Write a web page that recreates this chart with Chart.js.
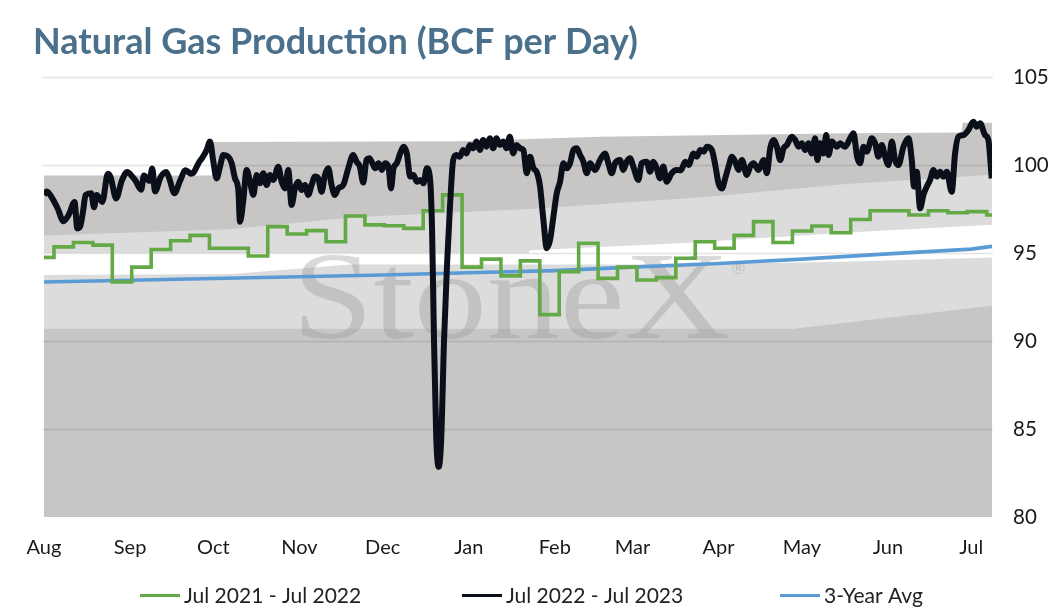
<!DOCTYPE html>
<html>
<head>
<meta charset="utf-8">
<script src="https://cdn.jsdelivr.net/npm/chart.js@4.4.1/dist/chart.umd.min.js"></script>
<style>
    html, body { margin: 0; padding: 0; background: #fff; }
    #caixa { width: 1058px; height: 614px; position: relative; }
</style>
</head>
<body>
<div id="caixa"><canvas id="grafico"></canvas></div>
<script>

    //entrada

const titulo = 'Natural Gas Production (BCF per Day)'
const meses = ['Aug','Sep','Oct','Nov','Dec','Jan','Feb','Mar','Apr','May','Jun','Jul']
const diasMes = [0,31,61,92,122,153,184,212,243,273,304,334]
const fimDias = 341.5
const ticksY = [80,85,90,95,100,105]

// Jul 2021 - Jul 2022 (semanal)
const semana2122 = [94.75,95.35,95.6,95.45,93.35,94.2,95.2,95.7,96.0,95.27,95.27,94.83,96.5,96.08,96.27,95.64,
    97.1,96.6,96.55,96.4,97.4,98.3,94.2,94.65,93.7,94.55,91.5,93.94,95.55,93.56,94.2,93.47,93.6,94.7,
    95.64,95.27,96.0,96.78,95.6,96.25,96.53,96.15,96.9,97.4,97.4,97.16,97.4,97.29,97.35,97.16]

// Jul 2022 - Jul 2023 (dia, valor)
const diario2223 = [[0,98.3],[1,98.5],[3,98.1],[5,97.5],[7,96.8],[9,97.2],[11,97.9],[12,96.4],[13,96.5],[14,97.3],
    [15,98.3],[17,98.4],[18,97.6],[19,98.3],[21,97.9],[23,99.5],[24,99.3],[26,98.1],[28,99.1],[30,99.6],[32,99.3],
    [33,99.1],[35,98.6],[36,99.4],[38,99.1],[39,99.8],[40,98.5],[42,99.3],[44,99.6],[45,99.3],[47,98.4],[49,99.1],
    [51,99.7],[53,99.5],[54,99.6],[56,100.2],[57,100.4],[58.6,100.85],[59.8,101.33],[61,100.19],[62.2,99.24],
    [63.4,99.9],[64.6,100.57],[66.4,100.47],[67.6,100.1],[68.8,99.24],[70,98.58],[70.6,96.78],[71.8,98.01],
    [73,99.72],[74.2,99.05],[75.4,98.3],[76.6,99.43],[77.8,98.96],[79,99.53],[80.2,98.86],[81.4,99.43],[82.6,99.15],
    [84.4,99.9],[85.6,99.05],[86.8,98.67],[88,99.72],[89.2,97.73],[90.4,98.67],[91.6,99.05],[92.8,98.58],[94,98.86],
    [95.2,98.3],[96.4,98.86],[97.6,99.34],[98.8,99.24],[100,98.48],[101.2,99.43],[102.4,99.81],[103.6,98.86],
    [104.8,98.3],[106,98.67],[107.8,98.86],[109.6,99.81],[111.4,100.57],[112.6,100.19],[113.8,99.9],[115,99.0],
    [116.2,100.3],[117.2,100.38],[118.3,100.1],[119.3,99.81],[120.5,100.1],[121.7,99.72],[122.9,100.1],[124.1,99.9],
    [125,98.67],[125.9,99.81],[127.1,100.1],[128.3,100.66],[129.5,101.04],[130.7,100.66],[131.9,99.34],[133.1,99.43],
    [134.3,99.05],[135.5,99.15],[136.7,98.96],[137.9,99.81],[139.1,99.15],[139.8,96.3],[140.5,90.0],[141.3,84.5],
    [142.2,82.85],[143.1,84.5],[144.1,90.0],[145.2,94.4],[146.3,97.8],[147.4,100.28],[148.6,100.57],[149.8,100.47],
    [151,100.85],[152.2,100.66],[153.4,101.14],[154.6,100.95],[155.8,101.33],[157,100.85],[158.2,101.42],
    [159.4,101.04],[160.6,101.52],[161.8,100.95],[163,101.52],[164.2,101.14],[165.4,101.33],[166.6,100.95],
    [167.8,101.61],[169,100.66],[170.2,101.14],[171.5,100.95],[172.7,100.85],[173.9,99.53],[175.1,100.47],
    [176.3,99.81],[177.5,99.6],[178.7,98.77],[179.9,96.88],[181.1,95.27],[182.3,95.74],[183.5,97.06],[184.7,98.39],
    [185.9,99.05],[187.1,100.1],[188.3,99.81],[189.5,100.1],[190.7,100.85],[191.9,100.95],[193.1,100.57],
    [194.3,100.19],[195.5,99.53],[196.7,100.1],[198.5,99.72],[200.3,100.28],[202.1,100.66],[203.3,100.1],
    [204.5,99.53],[205.7,100.1],[207.5,100.28],[208.7,99.72],[209.9,100.19],[211.1,100.38],[212.3,99.91],
    [214.1,99.15],[215.3,100.1],[217.1,100.19],[218.3,99.62],[219.5,100.19],[220.7,99.81],[221.9,99.24],
    [223.1,99.91],[224.3,99.05],[226.1,99.53],[227.9,99.72],[229.4,99.7],[231,100.19],[232.2,100.0],[234,100.66],
    [235.2,100.47],[236.4,100.85],[237.6,100.76],[238.8,101.04],[240.6,100.85],[241.8,100.0],[243,98.96],
    [244.2,98.67],[245.4,99.24],[246.6,99.91],[247.8,100.47],[249,100.19],[250.2,99.72],[251.4,100.28],
    [253.2,99.43],[254.4,99.91],[255.6,100.1],[257.4,99.72],[259.2,100.28],[260.4,99.53],[261.6,100.95],
    [262.8,101.42],[264,101.04],[265.2,100.28],[266.4,100.95],[267.6,101.14],[269.4,101.61],[270.6,101.42],
    [271.8,101.04],[273,101.23],[274.2,100.85],[275.4,101.23],[276.6,100.66],[277.8,101.52],[278.6,100.28],
    [279.6,101.23],[280.8,100.66],[281.8,101.7],[282.6,100.57],[283.8,101.33],[285.6,101.04],[286.8,101.23],
    [288.6,101.04],[290.4,101.52],[291.6,101.8],[292.9,100.47],[294,100.1],[295.2,101.04],[296.4,100.76],
    [298.2,101.52],[299.4,101.23],[300.6,100.47],[301.8,101.14],[303,100.47],[304.2,100.0],[305.4,101.33],
    [306.6,100.28],[307.8,100.0],[309.6,101.04],[311.4,101.52],[312.6,100.28],[313.4,98.77],[314.4,99.62],
    [315.6,97.54],[316.8,98.3],[318,98.77],[319.2,99.15],[320.4,99.72],[321.6,99.34],[322.8,99.62],[324,99.34],
    [325.2,99.62],[327,98.48],[328.2,100.66],[329.4,101.61],[331.2,101.7],[333,101.99],[334.8,102.46],
    [336,102.18],[337.2,102.37],[339,101.7],[340.2,101.42],[341.4,99.24]]

// 3-Year Avg (dia, valor)
const media3anos = [[0,93.35],[31,93.45],[61,93.55],[92,93.65],[122,93.75],[153,93.88],[184,94.0],
    [212,94.2],[243,94.4],[273,94.65],[304,94.95],[334,95.22],[341.5,95.38]]

// faixas de fundo (limites superiores)
const faixa1 = [[0,90.7],[270,90.7],[341.5,92.0]]
const faixa2 = [[0,93.75],[68,93.8],[110,94.35],[230,94.35],[288,94.5],[341.5,94.75]]
const faixa3 = [[0,95.0],[174.5,95.0],[175,95.15],[229,95.55],[288,96.15],[341.5,96.6]]
const faixa4 = [[0,96.0],[67,96.35],[113,97.05],[175,97.5],[236,98.15],[288,98.9],[341.5,99.45]]
const faixa5 = [[0,99.4],[60.5,99.4],[61,101.3],[150,101.35],[200,101.6],[290,101.8],[330.5,101.85],[331,102.4],[341.5,102.4]]

const cinzaEscuro = '#c8c6c5'
const cinzaClaro = '#dcdcdc'
const fonte = 'Lato'

/*========================================================*/

//operações

function pontos(lista){
    return lista.map(p => ({x: p[0], y: p[1]}))
}

function pontos_semana(valores){
    let saida = []
    for(let i = 0; i < valores.length; i++){
        let dia = i == 0 ? 0 : 3.6 + 7 * (i - 1)
        saida.push({x: dia, y: valores[i]})
    }
    saida.push({x: fimDias, y: valores[valores.length - 1]})
    return saida
}

function faixa(lista, cor, ordem){
    return {
        label: '',
        data: pontos(lista),
        borderWidth: 0,
        borderColor: cor,
        backgroundColor: cor,
        pointRadius: 0,
        fill: 'start',
        tension: 0,
        order: ordem
    }
}

// grade + marca d'agua, desenhadas depois das faixas e antes das linhas
const fundo = {
    id: 'fundo',
    beforeDatasetDraw(chart, args){
        if(args.index != 2) return
        const ctx = chart.ctx
        const a = chart.chartArea
        const y = chart.scales.y
        ctx.save()

        ctx.globalCompositeOperation = 'multiply'
        ctx.strokeStyle = 'rgb(228,228,228)'
        ctx.lineWidth = 1.5
        ticksY.slice(1).forEach(v => {
            let py = Math.round(y.getPixelForValue(v)) + 0.5
            ctx.beginPath()
            ctx.moveTo(a.left - 2, py)
            ctx.lineTo(a.right + 1, py)
            ctx.stroke()
        })
        ctx.globalCompositeOperation = 'source-over'

        ctx.fillStyle = 'rgba(150,150,150,0.36)'
        ctx.font = '124px "Liberation Serif"'
        ctx.textBaseline = 'alphabetic'
        let w = ctx.measureText('StoneX').width
        ctx.save()
        ctx.translate(a.left + 248, a.top + 261)
        ctx.scale(438 / w, 1)
        ctx.fillText('StoneX', 0, 0)
        ctx.restore()
        ctx.font = '17px "DejaVu Sans"'
        ctx.fillText('®', a.left + 686, a.top + 197)
        ctx.restore()
    }
}

// titulo e legenda
const textos = {
    id: 'textos',
    afterDraw(chart){
        const ctx = chart.ctx
        ctx.save()
        ctx.fillStyle = '#4a708b'
        ctx.font = 'bold 36px ' + fonte
        ctx.textBaseline = 'middle'
        ctx.fillText(titulo, 33, 42)

        const inicio = [140, 462, 780]
        ctx.font = '21px ' + fonte
        chart.data.datasets.slice(0, 3).forEach((d, i) => {
            ctx.fillStyle = d.borderColor
            ctx.fillRect(inicio[i], 594, 40, 3)
            ctx.fillStyle = '#222'
            ctx.fillText(d.label, inicio[i] + 44, 596)
        })
        ctx.restore()
    }
}

/*========================================================*/

    //saida

var grafico = new Chart(document.getElementById('grafico'), {
    type: 'line',
    data: {
        datasets: [
            {
                label: 'Jul 2021 - Jul 2022',
                data: pontos_semana(semana2122),
                borderColor: '#63a946',
                backgroundColor: '#63a946',
                borderWidth: 3.6,
                pointRadius: 0,
                stepped: true,
                fill: false,
                order: 1
            },
            {
                label: 'Jul 2022 - Jul 2023',
                data: pontos(diario2223),
                borderColor: '#0a0f19',
                backgroundColor: '#0a0f19',
                borderWidth: 6,
                pointRadius: 0,
                cubicInterpolationMode: 'monotone',
                borderJoinStyle: 'round',
                fill: false,
                order: 0
            },
            {
                label: '3-Year Avg',
                data: pontos(media3anos),
                borderColor: '#5b9bd5',
                backgroundColor: '#5b9bd5',
                borderWidth: 3.6,
                pointRadius: 0,
                tension: 0,
                fill: false,
                order: 2
            },
            faixa(faixa1, cinzaEscuro, 3),
            faixa(faixa2, cinzaClaro, 4),
            faixa(faixa3, '#ffffff', 5),
            faixa(faixa4, cinzaClaro, 6),
            faixa(faixa5, cinzaEscuro, 7)
        ]
    },
    options: {
        responsive: true,
        maintainAspectRatio: false,
        animation: false,
        layout: { padding: { left: 44, right: 6, top: 77, bottom: 57 } },
        plugins: {
            legend: { display: false },
            tooltip: { enabled: false }
        },
        scales: {
            x: {
                type: 'linear',
                min: 0,
                max: fimDias,
                grid: { display: false, drawTicks: false },
                border: { display: false },
                afterBuildTicks: s => { s.ticks = diasMes.map(v => ({value: v})) },
                afterFit: s => { s.height = 40 },
                ticks: {
                    autoSkip: false,
                    maxRotation: 0,
                    padding: 19,
                    color: '#1a1a1a',
                    font: { family: fonte, size: 20 },
                    callback: v => meses[diasMes.indexOf(v)]
                }
            },
            y: {
                position: 'right',
                min: 80,
                max: 105,
                grid: { display: false, drawTicks: false },
                border: { display: false },
                afterBuildTicks: s => { s.ticks = ticksY.map(v => ({value: v})) },
                afterFit: s => { s.width = 60 },
                ticks: {
                    padding: 21,
                    color: '#1a1a1a',
                    font: { family: fonte, size: 20.5 }
                }
            }
        }
    },
    plugins: [fundo, textos]
})

</script>
</body>
</html>
